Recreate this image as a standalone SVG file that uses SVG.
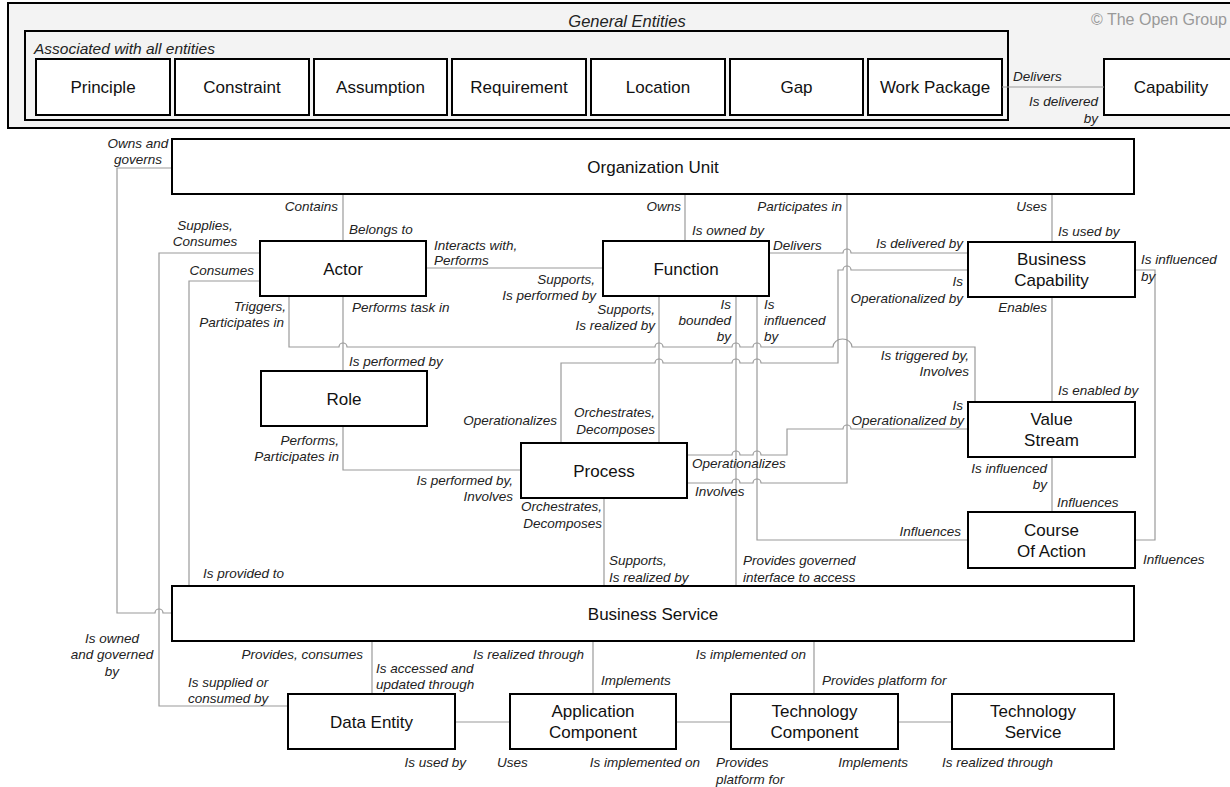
<svg xmlns="http://www.w3.org/2000/svg" width="1230" height="787" viewBox="0 0 1230 787">
<style>
.bg{fill:#f3f3f3;stroke:#000;stroke-width:2}
.box{fill:#fff;stroke:#000;stroke-width:2}
.nt{font-family:"Liberation Sans",Arial,sans-serif;font-size:17px;fill:#111;text-anchor:middle}
.lb{font-family:"Liberation Sans",Arial,sans-serif;font-size:13.5px;font-style:italic;fill:#222}
.e{text-anchor:end}
.m{text-anchor:middle}
.cn{fill:none;stroke:#9a9a9a;stroke-width:1.2}
</style>
<rect width="1230" height="787" fill="#fff"/>
<g id="general-entities">
<rect class="bg" x="8" y="3" width="1240" height="125"/>
<text class="lb m" x="627" y="27" style="font-size:16.5px">General Entities</text>
<text x="1227" y="25" text-anchor="end" style="font-family:'Liberation Sans',Arial,sans-serif;font-size:16px;fill:#999">© The Open Group</text>
</g>
<g id="associated">
<rect class="bg" x="25" y="31" width="983" height="89"/>
<text class="lb" x="34" y="54" style="font-size:15.5px">Associated with all entities</text>
</g>
<g id="principle"><rect class="box" x="36" y="59" width="134" height="56"/><text class="nt" x="103" y="93">Principle</text></g>
<g id="constraint"><rect class="box" x="175" y="59" width="134" height="56"/><text class="nt" x="242" y="93">Constraint</text></g>
<g id="assumption"><rect class="box" x="314" y="59" width="133" height="56"/><text class="nt" x="380.5" y="93">Assumption</text></g>
<g id="requirement"><rect class="box" x="452" y="59" width="134" height="56"/><text class="nt" x="519" y="93">Requirement</text></g>
<g id="location"><rect class="box" x="591" y="59" width="134" height="56"/><text class="nt" x="658" y="93">Location</text></g>
<g id="gap"><rect class="box" x="730" y="59" width="133" height="56"/><text class="nt" x="796.5" y="93">Gap</text></g>
<g id="work-package"><rect class="box" x="868" y="59" width="134" height="56"/><text class="nt" x="935" y="93">Work Package</text></g>
<g id="capability"><rect class="box" x="1104" y="59" width="134" height="56"/><text class="nt" x="1171" y="93">Capability</text></g>

<g id="connectors">
<path class="cn" d="M1002 87H1104"/>
<path class="cn" d="M172 168H117V613H155a4 4 0 0 1 8 0H172"/>
<path class="cn" d="M260 253H159V706H288"/>
<path class="cn" d="M260 281H189V586"/>
<path class="cn" d="M343 194V241"/>
<path class="cn" d="M343 296V371"/>
<path class="cn" d="M289 296V347H339a4 4 0 0 1 8 0H655a4 4 0 0 1 8 0H732a4 4 0 0 1 8 0H753a4 4 0 0 1 8 0H833a9.5 8 0 0 1 19 0H975V402"/>
<path class="cn" d="M343 426V470H521"/>
<path class="cn" d="M426 268H603"/>
<path class="cn" d="M685 194V241"/>
<path class="cn" d="M659 296V443"/>
<path class="cn" d="M561 443V363H655a4 4 0 0 1 8 0H732a4 4 0 0 1 8 0H753a4 4 0 0 1 8 0H838V270H843a4 4 0 0 1 8 0H968"/>
<path class="cn" d="M769 253H843a4 4 0 0 1 8 0H968"/>
<path class="cn" d="M687 483H732a4 4 0 0 1 8 0H753a4 4 0 0 1 8 0H847V194"/>
<path class="cn" d="M1052 194V242"/>
<path class="cn" d="M1052 297V402"/>
<path class="cn" d="M1052 457V512"/>
<path class="cn" d="M687 455H732a4 4 0 0 1 8 0H753a4 4 0 0 1 8 0H787V429H843a4 4 0 0 1 8 0H968"/>
<path class="cn" d="M736 296V586"/>
<path class="cn" d="M757 296V540H968"/>
<path class="cn" d="M1135 540H1155V270H1135"/>
<path class="cn" d="M604 498V586"/>
<path class="cn" d="M372 641V694"/>
<path class="cn" d="M593 641V694"/>
<path class="cn" d="M814 641V694"/>
<path class="cn" d="M455 722H510"/>
<path class="cn" d="M676 722H731"/>
<path class="cn" d="M898 722H952"/>
</g>

<g id="organization-unit"><rect class="box" x="172" y="139" width="962" height="55"/><text class="nt" x="653" y="173">Organization Unit</text></g>
<g id="actor"><rect class="box" x="260" y="241" width="166" height="55"/><text class="nt" x="343" y="274.5">Actor</text></g>
<g id="function"><rect class="box" x="603" y="241" width="166" height="55"/><text class="nt" x="686" y="274.5">Function</text></g>
<g id="business-capability"><rect class="box" x="968" y="242" width="167" height="55"/><text class="nt" x="1051.5" y="265">Business</text><text class="nt" x="1051.5" y="286">Capability</text></g>
<g id="role"><rect class="box" x="261" y="371" width="166" height="55"/><text class="nt" x="344" y="404.5">Role</text></g>
<g id="process"><rect class="box" x="521" y="443" width="166" height="55"/><text class="nt" x="604" y="476.5">Process</text></g>
<g id="value-stream"><rect class="box" x="968" y="402" width="167" height="55"/><text class="nt" x="1051.5" y="425">Value</text><text class="nt" x="1051.5" y="446">Stream</text></g>
<g id="course-of-action"><rect class="box" x="968" y="512" width="167" height="56"/><text class="nt" x="1051.5" y="536">Course</text><text class="nt" x="1051.5" y="557">Of Action</text></g>
<g id="business-service"><rect class="box" x="172" y="586" width="962" height="55"/><text class="nt" x="653" y="620">Business Service</text></g>
<g id="data-entity"><rect class="box" x="288" y="694" width="167" height="55"/><text class="nt" x="371.5" y="727.5">Data Entity</text></g>
<g id="application-component"><rect class="box" x="510" y="694" width="166" height="55"/><text class="nt" x="593" y="717">Application</text><text class="nt" x="593" y="738">Component</text></g>
<g id="technology-component"><rect class="box" x="731" y="694" width="167" height="55"/><text class="nt" x="814.5" y="717">Technology</text><text class="nt" x="814.5" y="738">Component</text></g>
<g id="technology-service"><rect class="box" x="952" y="694" width="162" height="55"/><text class="nt" x="1033" y="717">Technology</text><text class="nt" x="1033" y="738">Service</text></g>

<g id="labels">
<text class="lb" x="1013" y="81">Delivers</text>
<text class="lb e" x="1098" y="106">Is delivered</text>
<text class="lb e" x="1098" y="123">by</text>
<text class="lb m" x="138" y="148">Owns and</text>
<text class="lb m" x="138" y="164">governs</text>
<text class="lb e" x="338" y="211">Contains</text>
<text class="lb" x="349" y="234">Belongs to</text>
<text class="lb m" x="205" y="230">Supplies,</text>
<text class="lb m" x="205" y="246">Consumes</text>
<text class="lb e" x="254" y="275">Consumes</text>
<text class="lb" x="434" y="250">Interacts with,</text>
<text class="lb" x="434" y="265">Performs</text>
<text class="lb e" x="286" y="311">Triggers,</text>
<text class="lb e" x="284" y="327">Participates in</text>
<text class="lb" x="352" y="312">Performs task in</text>
<text class="lb" x="349" y="366">Is performed by</text>
<text class="lb e" x="681" y="211">Owns</text>
<text class="lb" x="692" y="235">Is owned by</text>
<text class="lb e" x="842" y="211">Participates in</text>
<text class="lb e" x="1047" y="211">Uses</text>
<text class="lb" x="1058" y="236">Is used by</text>
<text class="lb" x="773" y="250">Delivers</text>
<text class="lb e" x="963" y="248">Is delivered by</text>
<text class="lb e" x="595" y="284">Supports,</text>
<text class="lb e" x="596" y="300">Is performed by</text>
<text class="lb e" x="655" y="314">Supports,</text>
<text class="lb e" x="655" y="330">Is realized by</text>
<text class="lb e" x="731" y="309">Is</text>
<text class="lb e" x="731" y="325">bounded</text>
<text class="lb e" x="731" y="341">by</text>
<text class="lb" x="764" y="309">Is</text>
<text class="lb" x="764" y="325">influenced</text>
<text class="lb" x="764" y="341">by</text>
<text class="lb e" x="963" y="286">Is</text>
<text class="lb e" x="963" y="303">Operationalized by</text>
<text class="lb" x="1141" y="264">Is influenced</text>
<text class="lb" x="1141" y="281">by</text>
<text class="lb e" x="1047" y="312">Enables</text>
<text class="lb e" x="969" y="360">Is triggered by,</text>
<text class="lb e" x="969" y="376">Involves</text>
<text class="lb" x="1058" y="395">Is enabled by</text>
<text class="lb e" x="963" y="410">Is</text>
<text class="lb e" x="964" y="425">Operationalized by</text>
<text class="lb e" x="557" y="425">Operationalizes</text>
<text class="lb e" x="655" y="417">Orchestrates,</text>
<text class="lb e" x="655" y="434">Decomposes</text>
<text class="lb e" x="339" y="445">Performs,</text>
<text class="lb e" x="339" y="461">Participates in</text>
<text class="lb e" x="513" y="485">Is performed by,</text>
<text class="lb e" x="513" y="501">Involves</text>
<text class="lb" x="692" y="468">Operationalizes</text>
<text class="lb" x="695" y="496">Involves</text>
<text class="lb e" x="1047" y="473">Is influenced</text>
<text class="lb e" x="1047" y="489">by</text>
<text class="lb" x="1057" y="507">Influences</text>
<text class="lb e" x="961" y="536">Influences</text>
<text class="lb" x="1143" y="564">Influences</text>
<text class="lb e" x="602" y="511">Orchestrates,</text>
<text class="lb e" x="602" y="528">Decomposes</text>
<text class="lb" x="609" y="565">Supports,</text>
<text class="lb" x="609" y="582">Is realized by</text>
<text class="lb" x="743" y="565">Provides governed</text>
<text class="lb" x="743" y="582">interface to access</text>
<text class="lb" x="203" y="578">Is provided to</text>
<text class="lb m" x="112" y="643">Is owned</text>
<text class="lb m" x="112" y="659">and governed</text>
<text class="lb m" x="112" y="676">by</text>
<text class="lb e" x="363" y="659">Provides, consumes</text>
<text class="lb" x="376" y="673">Is accessed and</text>
<text class="lb" x="376" y="689">updated through</text>
<text class="lb" x="188" y="687">Is supplied or</text>
<text class="lb" x="188" y="703">consumed by</text>
<text class="lb e" x="584" y="659">Is realized through</text>
<text class="lb" x="601" y="685">Implements</text>
<text class="lb e" x="806" y="659">Is implemented on</text>
<text class="lb" x="822" y="685">Provides platform for</text>
<text class="lb e" x="466" y="767">Is used by</text>
<text class="lb" x="497" y="767">Uses</text>
<text class="lb e" x="700" y="767">Is implemented on</text>
<text class="lb" x="716" y="767">Provides</text>
<text class="lb" x="716" y="784">platform for</text>
<text class="lb e" x="908" y="767">Implements</text>
<text class="lb" x="942" y="767">Is realized through</text>
</g>
</svg>
